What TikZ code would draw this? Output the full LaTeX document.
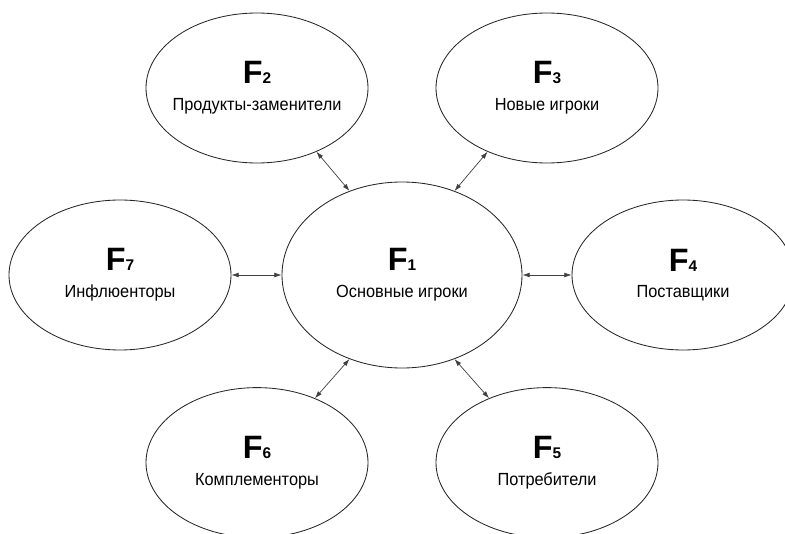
\documentclass[tikz,border=0pt]{standalone}
\usepackage{fontspec}
\setmainfont{Liberation Sans}
\newfontfamily\narrowfont[FakeStretch=0.93]{Liberation Sans}
\usetikzlibrary{arrows.meta, shapes.geometric}

\newcommand{\fnum}[1]{{\normalfont\bfseries\fontsize{23}{23}\selectfont F\fontsize{11}{11}\selectfont #1}}

\begin{document}
\begin{tikzpicture}[
    factor/.style={draw=black!85, line width=0.6pt, ellipse, inner sep=0pt,
      minimum width=5.55cm, minimum height=3.75cm},
    core/.style={factor, minimum width=6cm, minimum height=4.65cm},
    every label/.style={align=center, inner sep=0pt,
      font=\narrowfont\fontsize{12.5}{19}\selectfont},
    link/.style={{Latex[length=1.8mm, width=1.2mm]}-{Latex[length=1.8mm, width=1.2mm]},
      draw=black!75, line width=0.5pt}
]
\useasboundingbox (0,0) rectangle (19.625,13.325);

% Nodes
\node[core, label=center:{\fnum{1}\\Основные игроки}] (f1) at (10.05,6.45) {};
\node[factor, label=center:{\fnum{2}\\Продукты-заменители}] (f2) at (6.425,11.125) {};
\node[factor, label=center:{\fnum{3}\\Новые игроки}] (f3) at (13.675,11.125) {};
\node[factor, label=center:{\fnum{4}\\Поставщики}] (f4) at (17.075,6.45) {};
\node[factor, label=center:{\fnum{5}\\Потребители}] (f5) at (13.675,1.76) {};
\node[factor, label=center:{\fnum{6}\\Комплементоры}] (f6) at (6.425,1.76) {};
\node[factor, label=center:{\fnum{7}\\Инфлюенторы}] (f7) at (3.0,6.45) {};

% Arrows
\draw[link] (f2.-47) -- (f1.122);
\draw[link] (f3.-133) -- (f1.58);
\draw[link] (f1.east) -- (f4.west);
\draw[link] (f1.-58) -- (f5.132);
\draw[link] (f1.-122) -- (f6.48);
\draw[link] (f7.east) -- (f1.west);

\end{tikzpicture}
\end{document}
